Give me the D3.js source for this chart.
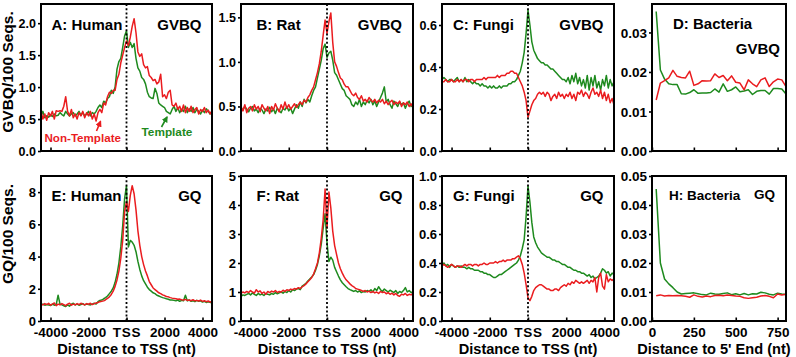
<!DOCTYPE html>
<html><head><meta charset="utf-8">
<script src="https://cdn.jsdelivr.net/npm/d3@7"></script>
<style>
body{margin:0;background:#fff}
svg text{font-family:"Liberation Sans",Arial,Helvetica,sans-serif;font-weight:bold;fill:#000}
</style>
</head><body>
<svg id="chart" width="796" height="357"></svg>
<script>
// ---------- bins ----------
const tssBins = d3.range(-4500, 4501, 100);   // 91 bins, distance to TSS (nt)
const endBins = d3.range(25, 801, 25);        // 32 bins, distance to 5' end (nt)

// ---------- tick labels ----------
const tssTicks = [-4000, -2000, 0, 2000, 4000];
const tssTickLabels = ["-4000", "-2000", "TSS", "2000", "4000"];
const endTicks = [0, 250, 500, 750];
const endTickLabels = ["0", "250", "500", "750"];

// ---------- series (GVBQ / 100 seqs) ----------
const humanGvbqNonTemplate = [
0.62,0.50,0.58,0.48,0.60,0.55,0.62,0.50,0.63,0.62,
0.63,0.62,0.70,0.85,0.62,0.55,0.65,0.52,0.58,0.50,
0.60,0.55,0.62,0.52,0.60,0.55,0.62,0.50,0.58,0.47,
0.60,0.65,0.60,0.75,0.72,0.85,0.92,0.90,0.95,0.95,
1.12,1.20,1.38,1.50,1.62,1.72,1.65,1.78,1.95,2.07,
1.85,1.55,1.48,1.52,1.35,1.30,1.32,1.18,1.15,1.10,
1.12,1.05,1.08,1.20,0.85,0.88,0.82,0.92,0.95,0.72,
0.70,0.75,0.65,0.70,0.62,0.72,0.60,0.68,0.62,0.70,
0.60,0.65,0.68,0.58,0.65,0.62,0.68,0.60,0.64,0.58,
0.63];
const humanGvbqTemplate = [
0.55,0.62,0.52,0.55,0.53,0.56,0.54,0.58,0.55,0.56,
0.60,0.57,0.55,0.62,0.58,0.55,0.58,0.60,0.55,0.58,
0.62,0.56,0.60,0.55,0.58,0.62,0.55,0.60,0.58,0.62,
0.68,0.72,0.68,0.78,0.75,0.82,0.85,0.95,0.90,1.00,
1.28,1.40,1.45,1.62,1.80,1.88,1.62,1.70,1.62,1.68,
1.45,1.30,1.25,1.15,1.12,1.05,0.92,0.85,0.83,0.82,
0.98,0.90,0.75,0.72,0.70,0.68,0.62,0.60,0.58,0.65,
0.70,0.62,0.68,0.60,0.65,0.62,0.70,0.60,0.66,0.62,
0.68,0.60,0.65,0.62,0.58,0.64,0.60,0.66,0.62,0.58,
0.62];
const ratGvbqNonTemplate = [
0.50,0.45,0.52,0.43,0.48,0.50,0.45,0.52,0.47,0.50,
0.44,0.52,0.48,0.45,0.50,0.42,0.50,0.46,0.53,0.48,
0.44,0.52,0.47,0.55,0.48,0.52,0.47,0.50,0.53,0.49,
0.52,0.55,0.52,0.57,0.55,0.60,0.63,0.68,0.72,0.80,
0.88,0.98,1.12,1.30,1.47,1.32,1.45,1.55,1.22,1.00,
0.95,0.88,0.82,0.80,0.75,0.72,0.72,0.68,0.64,0.62,
0.65,0.60,0.58,0.62,0.56,0.58,0.55,0.60,0.57,0.55,
0.58,0.54,0.57,0.55,0.58,0.53,0.56,0.52,0.55,0.57,
0.52,0.55,0.53,0.56,0.50,0.54,0.52,0.55,0.50,0.53,
0.49];
const ratGvbqTemplate = [
0.48,0.46,0.50,0.47,0.44,0.48,0.50,0.45,0.47,0.43,
0.48,0.46,0.42,0.47,0.45,0.49,0.44,0.47,0.42,0.48,
0.45,0.43,0.48,0.46,0.50,0.45,0.48,0.42,0.47,0.52,
0.48,0.55,0.50,0.58,0.54,0.58,0.55,0.62,0.68,0.72,
0.82,0.92,1.02,1.15,1.20,1.05,1.10,1.12,1.02,0.88,
0.85,0.80,0.75,0.70,0.68,0.62,0.60,0.58,0.52,0.50,
0.55,0.52,0.58,0.50,0.55,0.52,0.57,0.54,0.58,0.52,
0.56,0.50,0.55,0.60,0.65,0.72,0.55,0.58,0.52,0.48,
0.56,0.53,0.50,0.55,0.52,0.54,0.48,0.53,0.56,0.50,
0.52];
const fungiGvbqNonTemplate = [
0.33,0.33,0.34,0.33,0.33,0.34,0.33,0.33,0.34,0.33,
0.34,0.33,0.34,0.34,0.33,0.34,0.34,0.33,0.34,0.34,
0.34,0.34,0.35,0.34,0.35,0.35,0.35,0.35,0.35,0.36,
0.35,0.36,0.36,0.36,0.37,0.37,0.38,0.38,0.37,0.37,
0.35,0.33,0.31,0.28,0.24,0.16,0.19,0.22,0.24,0.25,
0.27,0.28,0.27,0.28,0.26,0.28,0.27,0.24,0.26,0.27,
0.25,0.28,0.26,0.27,0.25,0.27,0.26,0.28,0.25,0.27,
0.24,0.28,0.27,0.29,0.26,0.28,0.27,0.25,0.28,0.30,
0.27,0.28,0.26,0.29,0.25,0.28,0.24,0.27,0.23,0.25,
0.22];
const fungiGvbqTemplate = [
0.34,0.35,0.34,0.33,0.34,0.34,0.33,0.34,0.35,0.33,
0.34,0.33,0.35,0.33,0.34,0.33,0.32,0.33,0.32,0.32,
0.31,0.32,0.31,0.31,0.30,0.31,0.30,0.31,0.30,0.30,
0.31,0.30,0.31,0.31,0.31,0.32,0.32,0.33,0.33,0.34,
0.36,0.38,0.42,0.47,0.56,0.67,0.60,0.52,0.48,0.46,
0.44,0.43,0.42,0.42,0.41,0.41,0.40,0.39,0.39,0.38,
0.37,0.36,0.35,0.34,0.34,0.33,0.35,0.32,0.36,0.33,
0.37,0.32,0.35,0.31,0.34,0.30,0.36,0.29,0.35,0.31,
0.36,0.30,0.33,0.29,0.34,0.31,0.36,0.30,0.34,0.31,
0.33];
const bacteriaGvbqNonTemplate = [
0.0129,0.0172,0.0178,0.0185,0.0204,0.0189,0.0186,0.0185,0.0202,0.0166,
0.0170,0.0178,0.0177,0.0178,0.0195,0.0186,0.0191,0.0178,0.0190,0.0174,
0.0172,0.0155,0.0180,0.0170,0.0163,0.0180,0.0185,0.0163,0.0175,0.0182,
0.0180,0.0163];
const bacteriaGvbqTemplate = [
0.0353,0.0205,0.0182,0.0170,0.0168,0.0168,0.0145,0.0144,0.0148,0.0155,
0.0146,0.0147,0.0147,0.0148,0.0157,0.0149,0.0170,0.0151,0.0155,0.0162,
0.0150,0.0152,0.0155,0.0143,0.0151,0.0153,0.0153,0.0144,0.0158,0.0158,
0.0157,0.0144];

// ---------- series (GQ / 100 seqs) ----------
const humanGqNonTemplate = [
1.05,1.00,1.08,1.02,1.10,0.98,1.05,1.12,0.95,1.05,
1.00,1.08,1.02,0.95,1.05,1.10,0.98,1.05,1.00,1.08,
1.02,1.10,1.05,1.00,1.08,1.04,1.10,1.02,1.08,1.12,
1.15,1.20,1.22,1.25,1.32,1.40,1.50,1.65,1.85,2.15,
2.55,3.10,3.90,5.00,6.80,7.40,6.80,7.80,8.40,7.90,
6.90,5.60,4.70,4.00,3.50,3.10,2.80,2.45,2.25,2.05,
1.95,1.85,1.75,1.70,1.62,1.58,1.52,1.50,1.45,1.42,
1.40,1.38,1.35,1.36,1.32,1.30,1.34,1.28,1.30,1.26,
1.32,1.25,1.28,1.24,1.30,1.22,1.26,1.20,1.24,1.18,
1.20];
const humanGqTemplate = [
1.00,1.05,0.98,1.02,1.00,0.96,1.05,0.98,1.02,1.60,
1.05,1.00,0.95,0.90,1.00,0.92,1.05,1.10,1.00,1.05,
0.98,1.02,1.08,1.00,1.05,1.02,1.00,1.05,1.10,1.05,
1.20,1.28,1.30,1.38,1.45,1.55,1.70,1.85,2.05,2.40,
2.90,3.60,4.60,5.90,7.60,8.40,4.60,5.00,4.90,4.70,
4.30,3.70,3.20,2.80,2.50,2.30,2.10,1.95,1.85,1.75,
1.70,1.60,1.55,1.50,1.45,1.42,1.38,1.35,1.30,1.30,
1.28,1.25,1.30,1.22,1.28,1.25,1.60,1.25,1.30,1.22,
1.26,1.20,1.28,1.22,1.25,1.18,1.22,1.15,1.20,1.16,
1.12];
const ratGqNonTemplate = [
0.95,1.00,0.97,1.02,0.98,1.05,1.00,0.96,1.08,1.00,
1.04,0.95,1.00,0.92,1.02,0.98,1.03,1.00,1.05,0.98,
1.02,1.00,1.06,1.02,1.08,1.05,1.10,1.08,1.12,1.10,
1.15,1.12,1.18,1.22,1.28,1.35,1.42,1.50,1.62,1.80,
2.00,2.35,2.85,3.50,4.55,3.20,4.45,3.90,3.10,2.60,
2.30,2.00,1.80,1.65,1.52,1.42,1.35,1.28,1.22,1.18,
1.12,1.10,1.08,1.05,1.02,1.05,1.00,1.03,0.98,1.02,
0.97,1.00,0.95,1.02,0.98,1.00,0.94,0.98,0.92,0.96,
0.90,0.95,0.88,0.85,0.92,0.90,0.95,0.88,0.92,0.90,
0.95];
const ratGqTemplate = [
0.85,0.90,0.88,0.92,0.95,0.90,0.97,0.92,0.88,0.95,
0.90,0.93,0.88,0.95,0.92,0.90,0.95,0.92,0.98,0.94,
0.97,1.00,0.96,1.02,0.98,1.05,1.00,1.08,1.05,1.10,
1.12,1.08,1.20,1.25,1.30,1.38,1.45,1.52,1.60,1.75,
1.95,2.25,2.65,3.20,3.70,2.70,2.05,2.20,2.10,1.85,
1.70,1.55,1.42,1.32,1.25,1.18,1.12,1.08,1.05,1.02,
1.05,1.00,1.04,0.98,1.02,1.00,1.05,1.02,1.08,1.00,
1.12,1.05,1.18,1.08,1.02,1.10,1.05,1.00,1.06,1.02,
0.98,1.05,0.95,1.02,0.98,1.05,1.15,1.00,1.05,0.98,
1.00];
const fungiGqNonTemplate = [
0.38,0.39,0.38,0.37,0.38,0.39,0.38,0.37,0.38,0.38,
0.37,0.38,0.39,0.38,0.39,0.39,0.38,0.39,0.39,0.38,
0.39,0.39,0.40,0.39,0.39,0.40,0.40,0.40,0.41,0.40,
0.41,0.41,0.42,0.41,0.42,0.42,0.42,0.43,0.43,0.44,
0.45,0.43,0.39,0.33,0.25,0.16,0.14,0.17,0.21,0.23,
0.24,0.25,0.25,0.24,0.23,0.22,0.22,0.21,0.21,0.22,
0.22,0.21,0.23,0.24,0.25,0.24,0.26,0.25,0.27,0.26,
0.28,0.27,0.26,0.27,0.26,0.27,0.28,0.26,0.28,0.27,
0.30,0.20,0.30,0.33,0.24,0.22,0.32,0.27,0.29,0.28,
0.29];
const fungiGqTemplate = [
0.39,0.40,0.38,0.39,0.37,0.39,0.38,0.37,0.38,0.37,
0.38,0.37,0.37,0.36,0.37,0.36,0.36,0.35,0.35,0.35,
0.34,0.34,0.33,0.33,0.32,0.32,0.31,0.30,0.30,0.31,
0.32,0.32,0.33,0.34,0.35,0.36,0.37,0.38,0.39,0.40,
0.42,0.45,0.50,0.56,0.72,0.93,0.82,0.68,0.58,0.54,
0.51,0.49,0.47,0.46,0.45,0.44,0.44,0.43,0.42,0.42,
0.41,0.41,0.40,0.39,0.39,0.38,0.37,0.37,0.36,0.35,
0.35,0.34,0.34,0.33,0.33,0.32,0.31,0.32,0.30,0.31,
0.29,0.30,0.31,0.33,0.36,0.35,0.33,0.34,0.31,0.33,
0.32];
const bacteriaGqNonTemplate = [
0.0087,0.0090,0.0086,0.0088,0.0087,0.0088,0.0087,0.0085,0.0082,0.0090,
0.0085,0.0083,0.0086,0.0084,0.0088,0.0089,0.0087,0.0090,0.0088,0.0086,
0.0085,0.0080,0.0078,0.0080,0.0082,0.0086,0.0088,0.0085,0.0080,0.0093,
0.0090,0.0092];
const bacteriaGqTemplate = [
0.0455,0.0200,0.0145,0.0128,0.0115,0.0100,0.0093,0.0095,0.0096,0.0097,
0.0094,0.0091,0.0090,0.0096,0.0093,0.0092,0.0095,0.0097,0.0091,0.0094,
0.0090,0.0095,0.0090,0.0094,0.0093,0.0099,0.0097,0.0092,0.0090,0.0096,
0.0093,0.0091];

// ---------- y ticks ----------
const yTicksA = [0, 0.5, 1.0, 1.5, 2.0];
const yTicksB = [0, 0.5, 1.0, 1.5];
const yTicksC = [0, 0.2, 0.4, 0.6];
const yTicksD = [0, 0.01, 0.02, 0.03];
const yTicksE = [0, 2, 4, 6, 8];
const yTicksF = [0, 1, 2, 3, 4, 5];
const yTicksG = [0, 0.2, 0.4, 0.6, 0.8, 1.0];
const yTicksH = [0, 0.01, 0.02, 0.03, 0.04, 0.05];

// ---------- layout ----------
const RED = "#ea1c1f", GREEN = "#1e8a1e";
const cols = [[41, 212], [241, 413], [442, 614], [652, 786]];
const rows = [[4, 151], [176, 321]];

const panels = [
 {row:0,col:0,bins:tssBins,xd:[-4500,4500],yd:[0,2.3],yt:yTicksA,yf:".1f",yfs:12.5,red:humanGvbqNonTemplate,green:humanGvbqTemplate,tss:true,
  title:"A: Human",tx:10.5,ty:25.5,tag:"GVBQ",gx:10.5,gy:25.5,fs:15},
 {row:0,col:1,bins:tssBins,xd:[-4500,4500],yd:[0,1.65],yt:yTicksB,yf:".1f",yfs:12.5,red:ratGvbqNonTemplate,green:ratGvbqTemplate,tss:true,
  title:"B: Rat",tx:15.5,ty:25.5,tag:"GVBQ",gx:11,gy:25.5,fs:15},
 {row:0,col:2,bins:tssBins,xd:[-4500,4500],yd:[0,0.7],yt:yTicksC,yf:".1f",yfs:12.5,red:fungiGvbqNonTemplate,green:fungiGvbqTemplate,tss:true,
  title:"C: Fungi",tx:11,ty:25.5,tag:"GVBQ",gx:10.5,gy:25.5,fs:15},
 {row:0,col:3,bins:endBins,xd:[0,800],yd:[0,0.0372],yt:yTicksD,yf:".2f",yfs:13.5,red:bacteriaGvbqNonTemplate,green:bacteriaGvbqTemplate,tss:false,
  title:"D: Bacteria",tx:21,ty:24.5,tag:"GVBQ",gx:6,gy:49.5,fs:15},
 {row:1,col:0,bins:tssBins,xd:[-4500,4500],yd:[0,9],yt:yTicksE,yf:"d",yfs:13,red:humanGqNonTemplate,green:humanGqTemplate,tss:true,
  title:"E: Human",tx:10.5,ty:24.5,tag:"GQ",gx:10.5,gy:24.5,fs:15},
 {row:1,col:1,bins:tssBins,xd:[-4500,4500],yd:[0,5],yt:yTicksF,yf:"d",yfs:13,red:ratGqNonTemplate,green:ratGqTemplate,tss:true,
  title:"F: Rat",tx:15.5,ty:24.5,tag:"GQ",gx:10.5,gy:24.5,fs:15},
 {row:1,col:2,bins:tssBins,xd:[-4500,4500],yd:[0,1],yt:yTicksG,yf:".1f",yfs:13,red:fungiGqNonTemplate,green:fungiGqTemplate,tss:true,
  title:"G: Fungi",tx:11,ty:24.5,tag:"GQ",gx:10.5,gy:24.5,fs:15},
 {row:1,col:3,bins:endBins,xd:[0,800],yd:[0,0.05],yt:yTicksH,yf:".2f",yfs:13.5,red:bacteriaGqNonTemplate,green:bacteriaGqTemplate,tss:false,
  title:"H: Bacteria",tx:17,ty:24,tag:"GQ",gx:11,gy:22.5,fs:13.5}
];

const svg = d3.select("#chart");

panels.forEach(p => {
  const [x0, x1] = cols[p.col], [y0, y1] = rows[p.row];
  const x = d3.scaleLinear().domain(p.xd).range([x0, x1]);
  const y = d3.scaleLinear().domain(p.yd).range([y1, y0]);
  const g = svg.append("g");

  // y axis
  const ya = g.append("g").attr("transform", `translate(${x0},0)`)
    .call(d3.axisLeft(y).tickValues(p.yt).tickFormat(d3.format(p.yf)).tickSizeInner(3).tickSizeOuter(0).tickPadding(2));
  ya.select(".domain").remove();
  ya.selectAll(".tick line").attr("stroke", "#000").attr("stroke-width", 1.6);
  ya.selectAll(".tick text").style("font-size", p.yfs + "px").attr("dy", "0.34em");

  // x axis
  const ticks = p.tss ? tssTicks : endTicks;
  const labels = p.tss ? tssTickLabels : endTickLabels;
  const xa = g.append("g").attr("transform", `translate(0,${y1})`)
    .call(d3.axisBottom(x).tickValues(ticks).tickSizeInner(-3.5).tickSizeOuter(0).tickPadding(6)
      .tickFormat((d, i) => p.row === 1 ? labels[i] : ""));
  xa.select(".domain").remove();
  xa.selectAll(".tick line").attr("stroke", "#000").attr("stroke-width", 1.6);
  xa.selectAll(".tick text").style("font-size", "13.5px")
    .style("letter-spacing", d => (p.tss && d === 0) ? "0.8px" : null);

  // lines
  const line = d3.line().x((d, i) => x(p.bins[i])).y(d => y(d));
  g.append("path").datum(p.green).attr("d", line).attr("fill", "none")
    .attr("stroke", GREEN).attr("stroke-width", 1.5).attr("stroke-linejoin", "round");
  g.append("path").datum(p.red).attr("d", line).attr("fill", "none")
    .attr("stroke", RED).attr("stroke-width", 1.5).attr("stroke-linejoin", "round");

  // TSS dotted line
  if (p.tss) {
    g.append("line").attr("x1", x(0)).attr("x2", x(0)).attr("y1", y0).attr("y2", y1)
      .attr("stroke", "#000").attr("stroke-width", 1.8).attr("stroke-dasharray", "2,2.2");
  }

  // frame
  g.append("rect").attr("x", x0).attr("y", y0).attr("width", x1 - x0).attr("height", y1 - y0)
    .attr("fill", "none").attr("stroke", "#000").attr("stroke-width", 2);

  // panel labels
  g.append("text").attr("x", x0 + p.tx).attr("y", y0 + p.ty).style("font-size", p.fs + "px").text(p.title);
  g.append("text").attr("x", x1 - p.gx).attr("y", y0 + p.gy).attr("text-anchor", "end")
    .style("font-size", p.fs + "px").text(p.tag);
});

// axis titles
svg.append("text").attr("transform", "translate(13,72) rotate(-90)").attr("text-anchor", "middle")
  .style("font-size", "15.5px").text("GVBQ/100 Seqs.");
svg.append("text").attr("transform", "translate(13,234) rotate(-90)").attr("text-anchor", "middle")
  .style("font-size", "15.5px").text("GQ/100 Seqs.");
[[126.5, "Distance to TSS (nt)"], [327, "Distance to TSS (nt)"], [528, "Distance to TSS (nt)"], [714, "Distance to 5' End (nt)"]]
  .forEach(([cx, t]) => svg.append("text").attr("x", cx).attr("y", 353.5).attr("text-anchor", "middle")
    .style("font-size", "14.6px").text(t));

// annotations in panel A
const defs = svg.append("defs");
[["arrR", RED], ["arrG", GREEN]].forEach(([id, c]) => {
  defs.append("marker").attr("id", id).attr("viewBox", "0 0 10 10").attr("refX", 8).attr("refY", 5)
    .attr("markerWidth", 4).attr("markerHeight", 4).attr("orient", "auto")
    .append("path").attr("d", "M0,0L10,5L0,10z").attr("fill", c);
});
svg.append("line").attr("x1", 96.5).attr("y1", 131).attr("x2", 100.5).attr("y2", 121.5)
  .attr("stroke", RED).attr("stroke-width", 1.6).attr("marker-end", "url(#arrR)");
svg.append("line").attr("x1", 161.5).attr("y1", 127).attr("x2", 167).attr("y2", 117)
  .attr("stroke", GREEN).attr("stroke-width", 1.6).attr("marker-end", "url(#arrG)");
svg.append("text").attr("x", 44.5).attr("y", 141.5).style("font-size", "11.6px").style("fill", RED).text("Non-Template");
svg.append("text").attr("x", 141.5).attr("y", 135.5).style("font-size", "11.8px").style("fill", GREEN).text("Template");
</script>
</body></html>
